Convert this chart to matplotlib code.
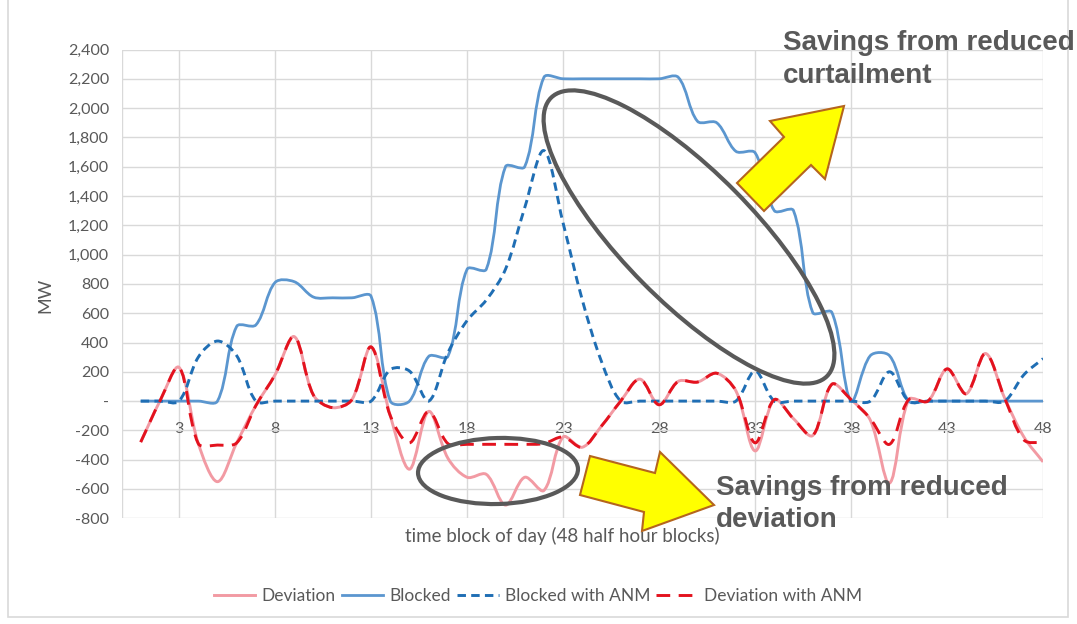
import numpy as np
import matplotlib
matplotlib.use("Agg")
import matplotlib.pyplot as plt
from matplotlib.path import Path
from matplotlib.patches import PathPatch, Ellipse, Polygon, Rectangle
from matplotlib.lines import Line2D

# ---------------- data ----------------
blocks = list(range(1, 49))

deviation = [-280, 0, 230, -290, -550, -285, -30, 180, 440, 40,
             -45, 10, 370, -100, -465, -70, -390, -520, -500, -710,
             -520, -610, -245, -315, -170, 0, 150, -25, 135, 130,
             190, 70, -340, 10, -120, -235, 115, 10, -130, -560,
             10, 0, 220, 50, 325, 20, -245, -415]

blocked = [0, 0, 0, 0, 0, 510, 520, 810, 815, 710,
           705, 705, 715, 0, 0, 305, 305, 900, 900, 1600,
           1600, 2210, 2200, 2200, 2200, 2200, 2200, 2200, 2210, 1910,
           1900, 1705, 1695, 1300, 1300, 605, 605, 0, 310, 310,
           0, 0, 0, 0, 0, 0, 0, 0]

blocked_anm = [0, 0, 0, 300, 410, 310, 0, 0, 0, 0,
               0, 0, 0, 215, 205, 0, 330, 550, 690, 900,
               1320, 1710, 1215, 690, 270, 0, 0, 0, 0, 0,
               0, 0, 205, 0, 0, 0, 0, 0, 0, 200,
               0, 0, 0, 0, 0, 0, 180, 290]

deviation_anm = [-280, 0, 230, -290, -300, -285, -30, 180, 440, 40,
                 -45, 10, 370, -100, -285, -70, -290, -295, -295, -295,
                 -295, -290, -245, -315, -170, 0, 150, -25, 135, 130,
                 190, 70, -285, 10, -120, -235, 115, 10, -120, -295,
                 10, 0, 220, 50, 325, 20, -265, -285]

series_names = ["Deviation", "Blocked", "Blocked with ANM", "Deviation with ANM"]
x_ticks = [3, 8, 13, 18, 23, 28, 33, 38, 43, 48]
y_ticks = list(range(-800, 2401, 200))
x_label = "time block of day (48 half hour blocks)"
y_label = "MW"
note_top = ["Savings from reduced", "curtailment"]
note_bottom = ["Savings from reduced", "deviation"]

# ---------------- styling ----------------
TXT = "#595959"
GRID = "#D9D9D9"
plt.rcParams["font.family"] = ["Lato", "DejaVu Sans"]

W, H = 1077, 624
fig = plt.figure(figsize=(W / 100, H / 100), dpi=100)
fig.patch.set_facecolor("white")

ax = fig.add_axes([121.5 / W, 1 - 518.3 / H, 921.6 / W, 468.8 / H])
ax.set_xlim(0, 48)
ax.set_ylim(-800, 2400)
for s in ["top", "right", "left"]:
    ax.spines[s].set_visible(False)
ax.spines["bottom"].set_position(("data", 0))
ax.spines["bottom"].set_color(GRID)
ax.spines["bottom"].set_zorder(0.5)

ax.set_xticks(x_ticks)
ax.set_xticklabels([str(v) for v in x_ticks])
ax.set_yticks(y_ticks)
ax.set_yticklabels(["-" if v == 0 else f"{v:,}" for v in y_ticks])
ax.tick_params(axis="x", length=0, pad=15, labelsize=11.5, labelcolor=TXT)
ax.tick_params(axis="y", length=0, pad=9, labelsize=11.5, labelcolor=TXT)
ax.grid(True, color=GRID, lw=1.0, zorder=0)
ax.set_axisbelow(True)
ax.axvline(0, color=GRID, lw=1.0, zorder=0.4)


def smooth_path(axis, xs, ys):
    pts = axis.transData.transform(np.column_stack([xs, ys]).astype(float))
    n = len(pts)
    verts = [pts[0]]
    codes = [Path.MOVETO]
    for i in range(n - 1):
        p0 = pts[i - 1] if i > 0 else pts[i]
        p1 = pts[i]
        p2 = pts[i + 1]
        p3 = pts[i + 2] if i + 2 < n else pts[i + 1]
        d01 = np.hypot(*(p1 - p0))
        d12 = np.hypot(*(p2 - p1))
        d23 = np.hypot(*(p3 - p2))
        f1 = d12 / (3 * (d01 + d12)) if d01 + d12 > 0 else 0
        f2 = d12 / (3 * (d12 + d23)) if d12 + d23 > 0 else 0
        c1 = p1 + (p2 - p0) * f1
        c2 = p2 - (p3 - p1) * f2
        verts += [c1, c2, p2]
        codes += [Path.CURVE4] * 3
    data = axis.transData.inverted().transform(np.array(verts))
    return Path(data, codes)


styles = [
    dict(color="#F29AA3", lw=2.1, ls="-"),
    dict(color="#5B96CF", lw=2.0, ls="-"),
    dict(color="#1F6EB4", lw=2.1, ls=(0, (2.9, 1.8))),
    dict(color="#E3121E", lw=2.1, ls=(0, (4.7, 2.9))),
]
series = [deviation, blocked, blocked_anm, deviation_anm]
handles = []
for k, (vals, st) in enumerate(zip(series, styles)):
    p = smooth_path(ax, blocks, vals)
    patch = PathPatch(p, fill=False, edgecolor=st["color"], lw=st["lw"],
                      linestyle=st["ls"], capstyle="butt", joinstyle="round",
                      zorder=2 + k, transform=ax.transData)
    ax.add_patch(patch)
    handles.append(Line2D([], [], color=st["color"], lw=st["lw"], ls=st["ls"]))

fig.legend(handles, series_names, loc="center", bbox_to_anchor=(538 / W, 1 - 596 / H),
           ncol=4, frameon=False, fontsize=12.5, labelcolor=TXT,
           handlelength=2.4, handletextpad=0.35, columnspacing=0.35)

# ---------------- overlay (pixel coordinates) ----------------
ov = fig.add_axes([0, 0, 1, 1], zorder=10)
ov.set_xlim(0, W)
ov.set_ylim(H, 0)
ov.axis("off")
ov.patch.set_visible(False)

ov.add_patch(Rectangle((8, -10), 1060, 627, fill=False, edgecolor=GRID, lw=1.2))

ov.text(45, 295, y_label, rotation=90, ha="center", va="center",
        fontsize=13, color=TXT)
ov.text(562, 536, x_label, ha="center", va="center", fontsize=13.5, color=TXT)

ov.add_patch(Ellipse((689, 237), 392, 130, angle=45.3, fill=False,
                     edgecolor=TXT, lw=3.0, zorder=1))
ov.add_patch(Ellipse((498, 471), 160, 66, angle=-1.5, fill=False,
                     edgecolor=TXT, lw=3.0, zorder=1))

arrow_up = [(844, 106), (825, 179), (811, 165), (764, 211), (737, 183),
            (784, 137), (770, 121)]
arrow_down = [(590, 456), (655, 473), (660, 452), (714, 505), (642, 531),
              (644, 512), (580, 495)]
for poly in (arrow_up, arrow_down):
    ov.add_patch(Polygon(poly, closed=True, facecolor="#FFFF00",
                         edgecolor="#B5651D", lw=1.5, zorder=2))

bold = dict(fontsize=20, fontweight="bold", color=TXT,
            family=["Liberation Sans", "DejaVu Sans"], va="baseline", ha="left", zorder=3)
ov.text(783, 50, note_top[0], **bold)
ov.text(783, 83, note_top[1], **bold)
ov.text(716, 495, note_bottom[0], **bold)
ov.text(716, 527, note_bottom[1], **bold)

fig.savefig("out.png", dpi=100, facecolor="white")
